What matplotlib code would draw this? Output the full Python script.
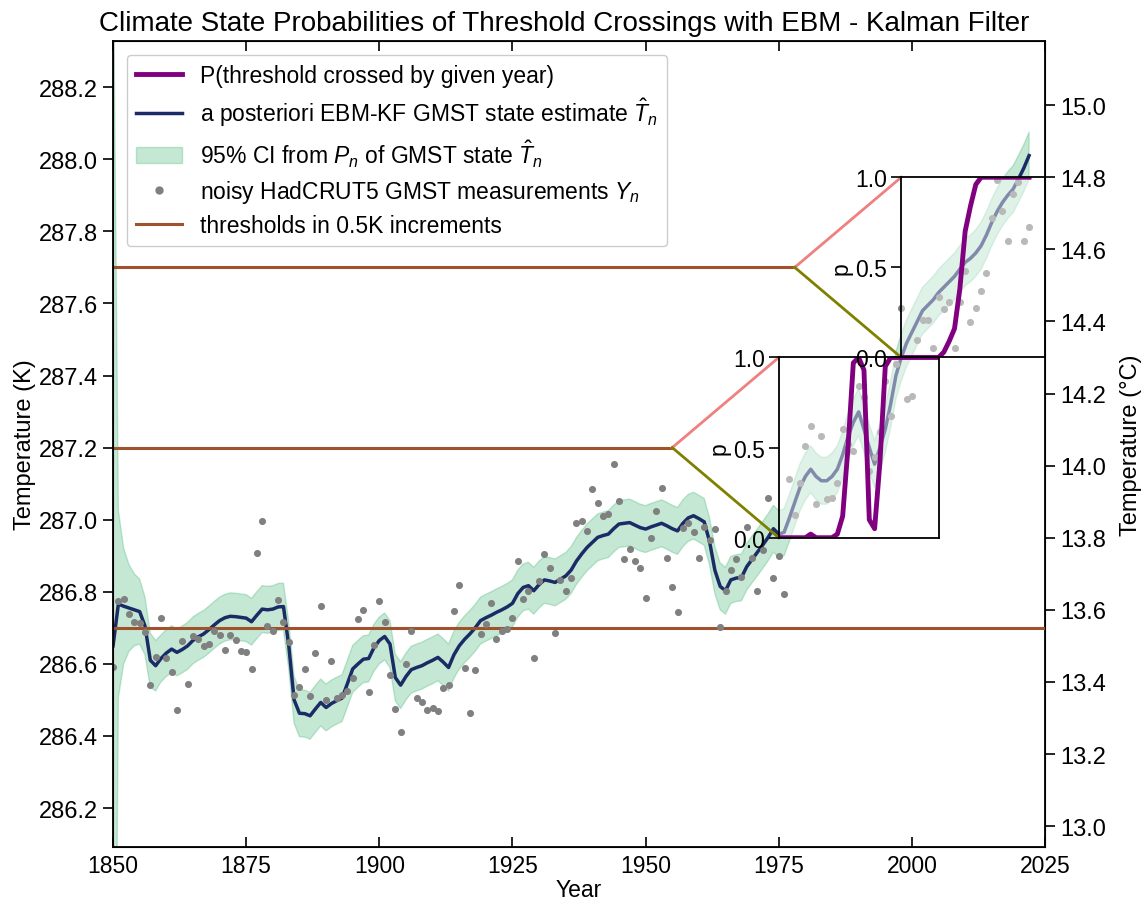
import numpy as np
import matplotlib
matplotlib.use("Agg")
import matplotlib.pyplot as plt
from matplotlib.lines import Line2D
from matplotlib.patches import Patch

plt.rcParams['font.family'] = ['Liberation Sans', 'DejaVu Sans']
plt.rcParams['mathtext.fontset'] = 'custom'
plt.rcParams['mathtext.rm'] = 'Liberation Sans'
plt.rcParams['mathtext.it'] = 'Liberation Sans:italic'
plt.rcParams['mathtext.bf'] = 'Liberation Sans:bold'

# ---------------- data ----------------
start_year = 1850
kf_state = [
    286.65, 286.766, 286.76, 286.755, 286.75, 286.745, 286.705, 286.61, 286.595, 286.615,   # 1850-59
    286.63, 286.641, 286.632, 286.64, 286.65, 286.665, 286.675, 286.683, 286.695, 286.708,   # 1860-69
    286.72, 286.728, 286.732, 286.731, 286.729, 286.727, 286.717, 286.735, 286.752, 286.75,  # 1870-79
    286.752, 286.758, 286.759, 286.65, 286.50, 286.463, 286.462, 286.456, 286.475, 286.493,  # 1880-89
    286.479, 286.49, 286.498, 286.505, 286.545, 286.586, 286.60, 286.613, 286.615, 286.645,  # 1890-99
    286.665, 286.676, 286.655, 286.562, 286.541, 286.565, 286.584, 286.59, 286.595, 286.603, # 1900-09
    286.61, 286.618, 286.605, 286.59, 286.625, 286.65, 286.668, 286.683, 286.70, 286.72,     # 1910-19
    286.728, 286.735, 286.743, 286.75, 286.758, 286.768, 286.795, 286.812, 286.817, 286.803, # 1920-29
    286.82, 286.833, 286.83, 286.826, 286.835, 286.844, 286.86, 286.885, 286.905, 286.923,   # 1930-39
    286.937, 286.951, 286.956, 286.96, 286.975, 286.988, 286.99, 286.992, 286.985, 286.978,  # 1940-49
    286.974, 286.98, 286.985, 286.99, 286.983, 286.975, 286.969, 286.99, 287.005, 287.011,   # 1950-59
    287.003, 286.994, 286.94, 286.86, 286.815, 286.803, 286.833, 286.838, 286.84, 286.87,    # 1960-69
    286.89, 286.91, 286.93, 286.951, 286.975, 286.96, 286.965, 287.005, 287.048, 287.09,     # 1970-79
    287.12, 287.14, 287.12, 287.108, 287.108, 287.12, 287.14, 287.18, 287.23, 287.27,        # 1980-89
    287.299, 287.251, 287.20, 287.154, 287.20, 287.251, 287.32, 287.40, 287.45, 287.49,      # 1990-99
    287.52, 287.55, 287.58, 287.595, 287.61, 287.63, 287.645, 287.66, 287.675, 287.695,      # 2000-09
    287.714, 287.725, 287.74, 287.76, 287.79, 287.825, 287.855, 287.88, 287.90, 287.917,     # 2010-19
    287.945, 287.975, 288.01,                                                                # 2020-22
]
measurements = [
    286.59, 286.775, 286.78, 286.738, 286.717, 286.713, 286.689, 286.541, 286.62, 286.728,   # 1850-59
    286.617, 286.578, 286.472, 286.664, 286.543, 286.676, 286.668, 286.65, 286.655, 286.692, # 1860-69
    286.68, 286.639, 286.68, 286.667, 286.635, 286.632, 286.586, 286.907, 286.997, 286.706,  # 1870-79
    286.692, 286.777, 286.715, 286.661, 286.515, 286.537, 286.587, 286.51, 286.629, 286.76,  # 1880-89
    286.5, 286.608, 286.504, 286.514, 286.526, 286.56, 286.724, 286.749, 286.523, 286.652,   # 1890-99
    286.775, 286.715, 286.569, 286.475, 286.41, 286.6, 286.69, 286.504, 286.493, 286.473,    # 1900-09
    286.478, 286.469, 286.532, 286.541, 286.746, 286.819, 286.588, 286.465, 286.584, 286.682, # 1910-19
    286.71, 286.769, 286.669, 286.692, 286.697, 286.727, 286.886, 286.78, 286.803, 286.616,  # 1920-29
    286.831, 286.905, 286.865, 286.687, 286.833, 286.803, 286.838, 286.99, 286.997, 286.969, # 1930-39
    287.085, 287.046, 287.011, 287.016, 287.154, 287.052, 286.891, 286.918, 286.886, 286.865, # 1940-49
    286.784, 286.948, 287.025, 287.087, 286.893, 286.812, 286.745, 286.976, 286.992, 286.965, # 1950-59
    286.893, 286.98, 286.944, 286.974, 286.703, 286.803, 286.861, 286.891, 286.84, 286.979,  # 1960-69
    286.895, 286.803, 286.917, 287.06, 286.837, 286.898, 286.794, 287.113, 287.013, 287.102, # 1970-79
    287.205, 287.259, 287.043, 287.233, 287.057, 287.059, 287.103, 287.252, 287.21, 287.19,  # 1980-89
    287.37, 287.34, 287.136, 287.175, 287.244, 287.385, 287.287, 287.432, 287.587, 287.334,  # 1990-99
    287.344, 287.499, 287.554, 287.554, 287.476, 287.617, 287.584, 287.603, 287.476, 287.603, # 2000-09
    287.69, 287.549, 287.587, 287.635, 287.684, 287.836, 287.942, 287.857, 287.774, 287.903, # 2010-19
    287.936, 287.774, 287.813,                                                               # 2020-22
]
# half-width of the 95% CI band (K): very wide at start, then nearly constant
ci_early = [2.0, 0.26, 0.16, 0.12, 0.10, 0.09, 0.08, 0.075, 0.07]
ci_later_value = 0.065

thresholds = [286.7, 287.2, 287.7]

inset1_years = list(range(1975, 2006))
p_inset1 = [0, 0, 0, 0, 0, 0, 0.02, 0, 0, 0, 0, 0.02, 0.12, 0.5, 0.97, 1.0,
            0.93, 0.1, 0.05, 0.42, 0.95, 1.0, 1, 1, 1, 1, 1, 1, 1, 1, 1]
inset2_years = list(range(1998, 2023))
p_inset2 = [0, 0, 0, 0, 0, 0, 0, 0.0, 0.03, 0.09, 0.16, 0.38, 0.7, 0.84, 0.96,
            1, 1, 1, 1, 1, 1, 1, 1, 1, 1]

# ---------------- layout ----------------
years = np.arange(start_year, start_year + len(kf_state))
kf = np.array(kf_state)
meas = np.array(measurements)
hw = np.array(ci_early + [ci_later_value] * (len(kf_state) - len(ci_early)))

fig = plt.figure(figsize=(11.43, 9.03), dpi=100)
ax = fig.add_axes([0.0989, 0.0609, 0.8154, 0.8926])
ylim = (286.092, 288.328)

band_color = '#3cb371'
line_color = '#1b2b66'
thr_color = 'sienna'

ax.fill_between(years, kf - hw, kf + hw, color=band_color, alpha=0.3, lw=1.0, zorder=1)
ax.plot(years, kf, color=line_color, lw=2.5, zorder=2)

# (threshold value, end of horizontal line, inset x-range, years, p)
inset_specs = [
    (thresholds[0], 2025, None, None, None),
    (thresholds[1], 1955, (1975, 2005), inset1_years, p_inset1),
    (thresholds[2], 1978, (1998, 2025), inset2_years, p_inset2),
]
for thr, xend, xr, iy, ip in inset_specs:
    ax.plot([1850, xend], [thr, thr], color=thr_color, lw=2.2, zorder=3)
    if xr is None:
        continue
    y0, y1 = thr - 0.25, thr + 0.25
    ax.plot([xend, xr[0]], [thr, y1], color='lightcoral', lw=2, zorder=3)
    ax.plot([xend, xr[0]], [thr, y0], color='olive', lw=2, zorder=3)
    ins = ax.inset_axes([xr[0], y0, xr[1] - xr[0], y1 - y0], transform=ax.transData)
    ins.set_facecolor((1, 1, 1, 0.45))
    ins.plot(iy, ip, color='purple', lw=3.5)
    ins.set_xlim(xr)
    ins.set_ylim(0, 1)
    ins.set_xticks([])
    ins.set_yticks([0, 0.5, 1.0])
    ins.set_yticklabels(['0.0', '0.5', '1.0'])
    ins.tick_params(axis='y', labelsize=16.5, length=7, width=1.2, pad=3)
    ins.set_ylabel('p', fontsize=16.5, labelpad=2)
    for s in ins.spines.values():
        s.set_linewidth(1.3)

ax.scatter(years, meas, s=26, color='gray', zorder=4, linewidths=0)

ax.set_xlim(1850, 2025)
ax.set_ylim(*ylim)
ax.set_xticks([1850, 1875, 1900, 1925, 1950, 1975, 2000, 2025])
ax.set_yticks(np.round(np.arange(286.2, 288.21, 0.2), 1))
ax.tick_params(axis='x', direction='in', top=True, labelsize=16.5, length=7, width=1.2, pad=5)
ax.tick_params(axis='y', direction='out', labelsize=17, length=7, width=1.2, pad=4)
ax.set_xlabel('Year', fontsize=16.5, labelpad=1)
ax.set_ylabel('Temperature (K)', fontsize=17, labelpad=2)
ax.set_title('Climate State Probabilities of Threshold Crossings with EBM - Kalman Filter',
             fontsize=20, pad=8, x=0.484)
for s in ax.spines.values():
    s.set_linewidth(1.3)

ax2 = ax.twinx()
ax2.set_ylim(ylim[0] - 273.15, ylim[1] - 273.15)
ax2.set_yticks(np.round(np.arange(13.0, 15.01, 0.2), 1))
ax2.tick_params(axis='y', direction='out', labelsize=17, length=7, width=1.2, pad=4)
ax2.set_ylabel('Temperature (°C)', fontsize=17, labelpad=10)

handles = [
    Line2D([], [], color='purple', lw=3.5),
    Line2D([], [], color=line_color, lw=2.5),
    Patch(facecolor=band_color, alpha=0.3, edgecolor=band_color),
    Line2D([], [], color='gray', marker='o', ls='none', markersize=6, markeredgewidth=0),
    Line2D([], [], color=thr_color, lw=2.2),
]
labels = [
    'P(threshold crossed by given year)',
    r'a posteriori EBM-KF GMST state estimate $\hat{T}_n$',
    r'95% CI from $P_n$ of GMST state $\hat{T}_n$',
    r'noisy HadCRUT5 GMST measurements $Y_n$',
    'thresholds in 0.5K increments',
]
leg = ax.legend(handles, labels, loc='upper left', fontsize=16.5, framealpha=1,
                borderaxespad=0.6, labelspacing=0.4, handlelength=2.0)
leg.set_zorder(10)

fig.savefig('out.png', dpi=100)
